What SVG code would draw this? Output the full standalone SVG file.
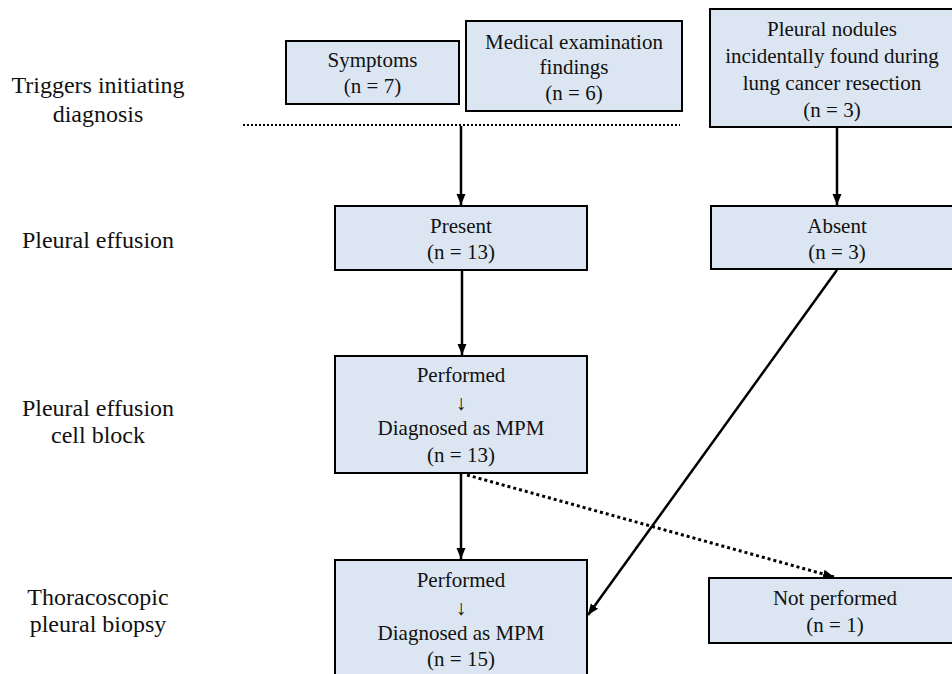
<svg xmlns="http://www.w3.org/2000/svg" width="952" height="674" viewBox="0 0 952 674">
<style>
.box{fill:#dce6f2;stroke:#000;stroke-width:2}
text{font-family:Liberation Serif, DejaVu Serif, Noto Serif, serif}
.bt{font-size:21px;fill:#111;text-anchor:middle}
.lt{font-size:24px;fill:#111;text-anchor:middle}
.ar{stroke:#000;stroke-width:2.5;fill:none}
.dot{stroke:#000;stroke-width:3;fill:none;stroke-dasharray:3 3}
</style>
<defs>
<marker id="ah" markerUnits="userSpaceOnUse" markerWidth="12" markerHeight="12" viewBox="0 0 12 12" refX="11" refY="6" orient="auto">
<path d="M0,1.5 L11,6 L0,10.5 Z" fill="#000"/>
</marker>
</defs>
<rect width="952" height="674" fill="#fff"/>
<g id="labels">
<text class="lt" x="98" y="93">Triggers  initiating</text>
<text class="lt" x="98" y="122">diagnosis</text>
<text class="lt" x="98" y="248">Pleural effusion</text>
<text class="lt" x="98" y="416">Pleural effusion</text>
<text class="lt" x="98" y="443">cell block</text>
<text class="lt" x="98" y="605">Thoracoscopic</text>
<text class="lt" x="98" y="632">pleural biopsy</text>
</g>
<line x1="243" y1="125" x2="680" y2="125" stroke="#000" stroke-width="2" stroke-dasharray="2 2"/>
<g id="connectors">
<line class="ar" x1="461" y1="126" x2="461" y2="205" marker-end="url(#ah)"/>
<line class="ar" x1="837" y1="127" x2="837" y2="205" marker-end="url(#ah)"/>
<line class="ar" x1="462" y1="270" x2="462" y2="355" marker-end="url(#ah)"/>
<line class="ar" x1="461" y1="473" x2="461" y2="559" marker-end="url(#ah)"/>
<line class="ar" x1="837" y1="270" x2="588" y2="615" marker-end="url(#ah)"/>
<line class="dot" x1="467" y1="475" x2="834" y2="577" marker-end="url(#ah)"/>
</g>
<g id="symptoms">
<rect class="box" x="286" y="41" width="173" height="63"/>
<text class="bt" x="372.5" y="67">Symptoms</text>
<text class="bt" x="372.5" y="93">(n = 7)</text>
</g>
<g id="medical">
<rect class="box" x="466" y="21" width="216" height="90"/>
<text class="bt" x="574" y="49">Medical  examination</text>
<text class="bt" x="574" y="74">findings</text>
<text class="bt" x="574" y="100">(n = 6)</text>
</g>
<g id="nodules">
<rect class="box" x="710" y="9" width="244" height="118"/>
<text class="bt" x="832" y="36" font-size="22">Pleural nodules</text>
<text class="bt" x="832" y="63" font-size="22">incidentally  found during</text>
<text class="bt" x="832" y="90" font-size="22">lung cancer resection</text>
<text class="bt" x="832" y="117" font-size="22">(n = 3)</text>
</g>
<g id="present">
<rect class="box" x="335" y="206" width="252" height="64"/>
<text class="bt" x="461" y="233">Present</text>
<text class="bt" x="461" y="259">(n = 13)</text>
</g>
<g id="absent">
<rect class="box" x="711" y="206" width="252" height="63"/>
<text class="bt" x="837" y="233">Absent</text>
<text class="bt" x="837" y="259">(n = 3)</text>
</g>
<g id="cellblock">
<rect class="box" x="335" y="356" width="252" height="117"/>
<text class="bt" x="461" y="382">Performed</text>
<text class="bt" x="461" y="410">↓</text>
<text class="bt" x="461" y="435">Diagnosed  as MPM</text>
<text class="bt" x="461" y="462">(n = 13)</text>
</g>
<g id="biopsy">
<rect class="box" x="335" y="560" width="252" height="125"/>
<text class="bt" x="461" y="587">Performed</text>
<text class="bt" x="461" y="615">↓</text>
<text class="bt" x="461" y="640">Diagnosed  as MPM</text>
<text class="bt" x="461" y="666">(n = 15)</text>
</g>
<g id="notperformed">
<rect class="box" x="709" y="578" width="252" height="65"/>
<text class="bt" x="835" y="605">Not performed</text>
<text class="bt" x="835" y="632">(n = 1)</text>
</g>
</svg>
